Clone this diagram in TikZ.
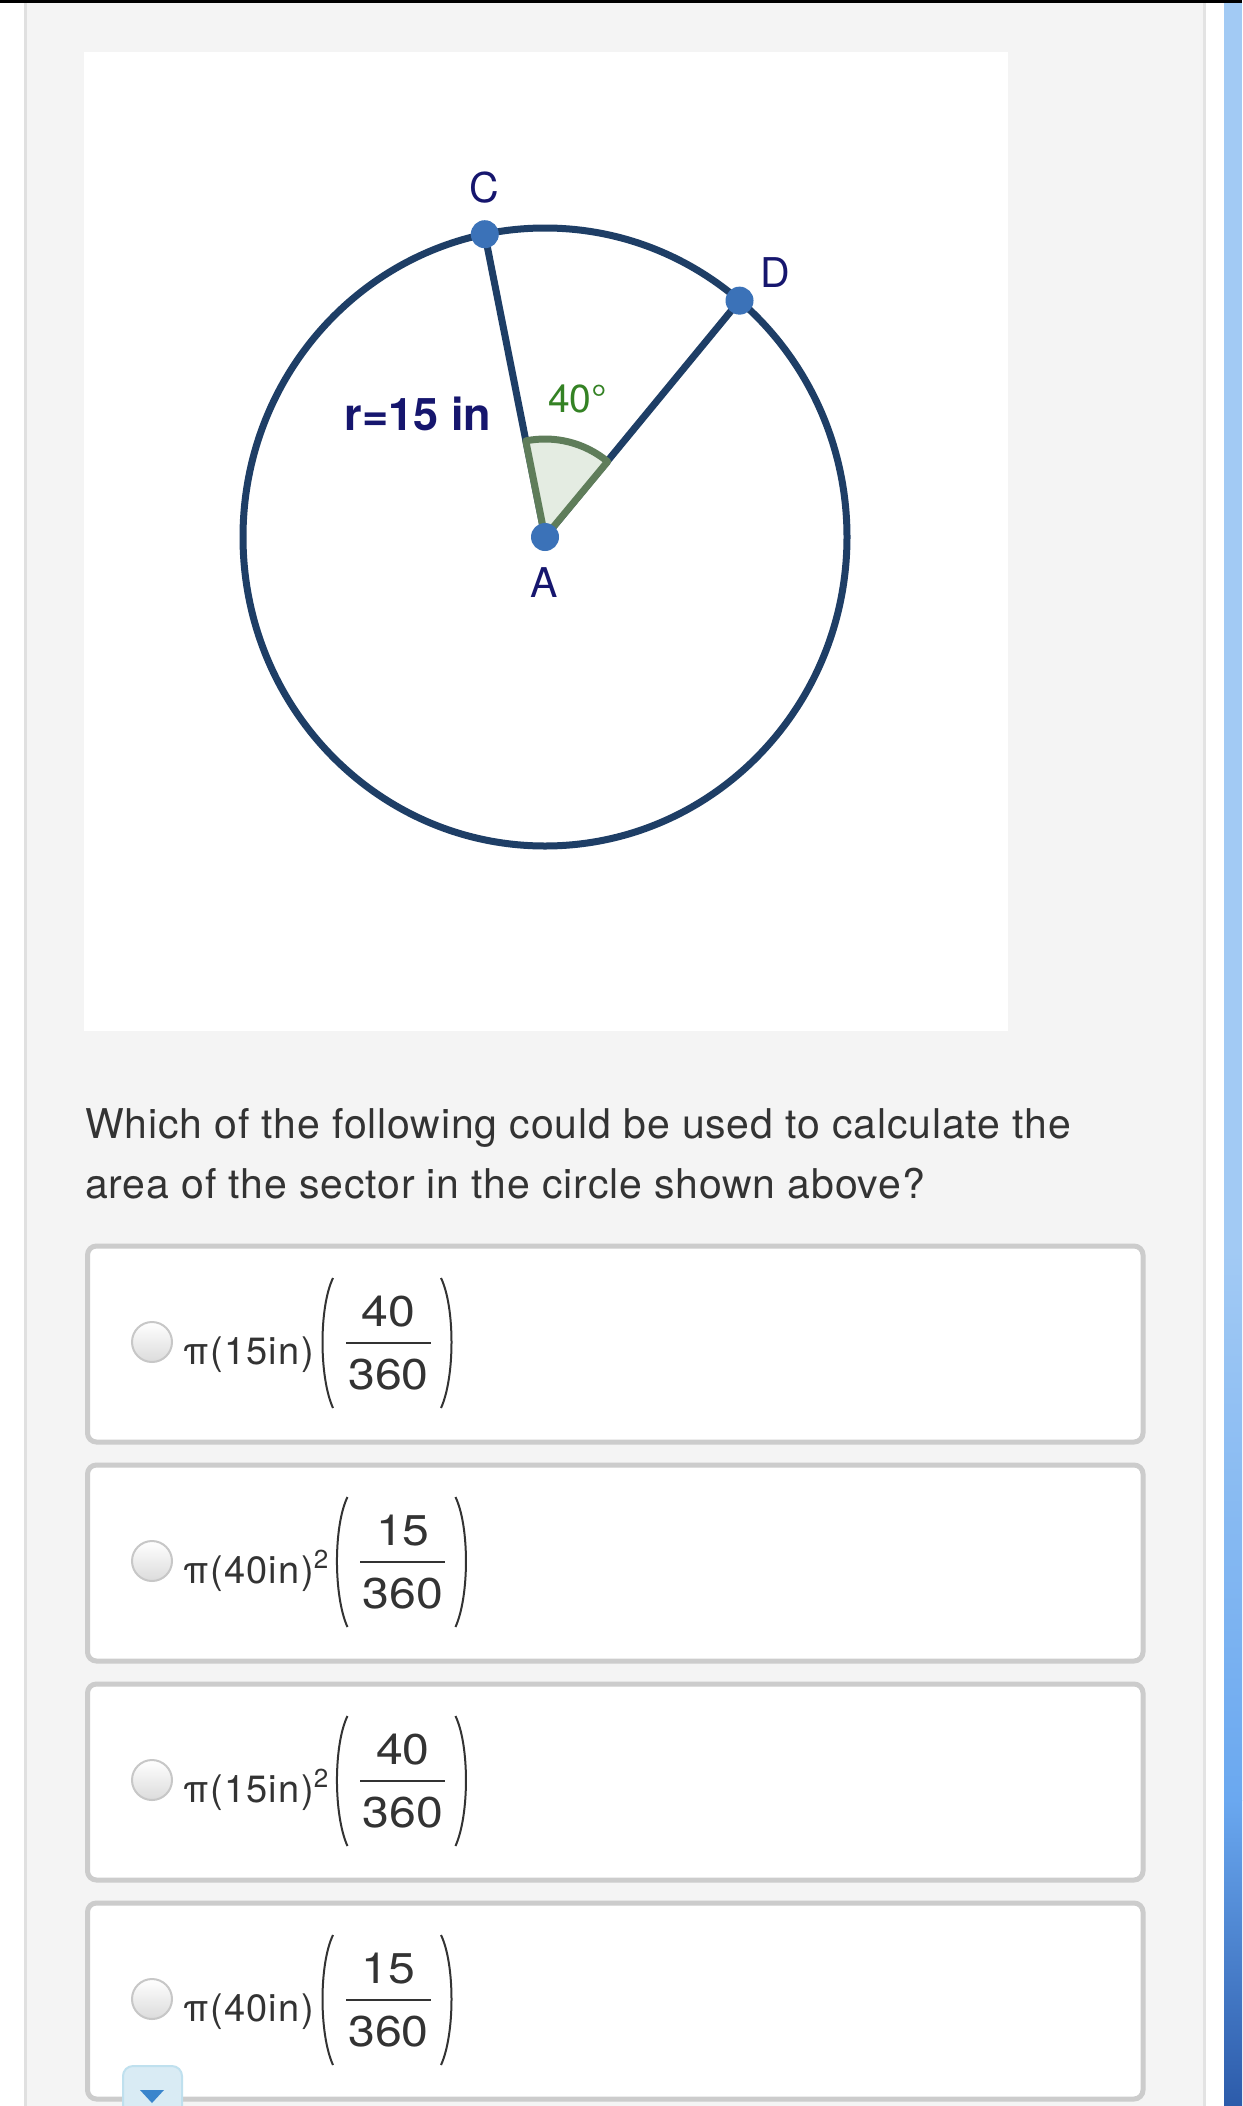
\documentclass[tikz,border=0pt]{standalone}
\usepackage{fontspec}
\setmainfont{TeX Gyre Heros}
\newfontfamily\askfont[LetterSpace=2]{TeX Gyre Heros}
\newfontfamily\choicefont[LetterSpace=3.5]{TeX Gyre Heros}
\newfontfamily\fracfont[FakeStretch=1.12]{TeX Gyre Heros}
\usetikzlibrary{calc}
\definecolor{pagegray}{HTML}{F4F4F4}
\definecolor{rimgray}{HTML}{CCCCCC}
\definecolor{inkgray}{HTML}{333333}
\definecolor{circnavy}{RGB}{30,62,102}
\definecolor{dotblue}{RGB}{59,114,184}
\definecolor{labnavy}{RGB}{22,22,110}
\definecolor{anglegreen}{RGB}{52,130,36}
\definecolor{sectfill}{HTML}{E4ECE2}
\definecolor{sectrim}{HTML}{5F7D5A}
\definecolor{stripA}{HTML}{A2CAF4}
\definecolor{stripB}{HTML}{6AA8F0}
\definecolor{stripC}{HTML}{2C5BAA}
\definecolor{btnfill}{HTML}{D9EBF4}
\definecolor{btnrim}{HTML}{BFE0EE}
\definecolor{btnarrow}{HTML}{3A85CC}

\begin{document}
\begin{tikzpicture}[x = 1pt, y = -1pt,
    every node/.style = {inner sep = 0pt, text = inkgray},
    optbox/.style = {draw = rimgray, line width = 5pt, fill = white, rounded corners = 9pt},
    radio/.style = {circle, minimum size = 40pt, draw = black!22, line width = 2pt,
                    top color = white, bottom color = black!14},
    ptdot/.style = {circle, fill = dotblue, minimum size = 28pt},
    ptlabel/.style = {anchor = base, text = labnavy, font = \fontsize{41}{41}\selectfont},
    asktext/.style = {anchor = base west, font = \askfont\fontsize{41}{41}\selectfont},
    opttext/.style = {anchor = base west, font = \choicefont\fontsize{38}{38}\selectfont},
    fracnum/.style = {anchor = base, font = \fracfont\fontsize{43}{43}\selectfont},
    paren/.style = {draw = inkgray, line width = 2pt}]
  \useasboundingbox (0,0) rectangle (1242,2106);
  \fill[white] (0,0) rectangle (1242,2106);
  \fill[pagegray] (24,0) rectangle (1204,2106);
  \draw[black!12, line width = 3pt] (25.5,0) -- (25.5,2106);
  \draw[black!11, line width = 3pt] (1204,0) -- (1204,2106);
  \fill[stripA] (1224,0) rectangle (1242,1250);
  \shade[top color = stripA, bottom color = stripB] (1224,1250) rectangle (1242,1800);
  \shade[top color = stripB, bottom color = stripC] (1224,1800) rectangle (1242,2106);
  \fill[black] (0,0) rectangle (1242,3);

  \fill[white] (84,52) rectangle (1008,1031);
  \coordinate (A) at (545,537);
  \path (A) ++(-101.5:302 and 309) coordinate (C)
        (A) ++(-49.9:302 and 309) coordinate (D);
  \draw[circnavy, line width = 7pt] (A) ellipse[x radius = 302, y radius = 309];
  \draw[circnavy, line width = 7pt] (C) -- (A) -- (D);
  \filldraw[fill = sectfill, draw = sectrim, line width = 7pt, line join = round]
    (A) -- ++(-50.3:98) arc[start angle = -50.3, end angle = -101.3, radius = 98] -- cycle;
  \foreach \p in {A, C, D}
  {
    \node[ptdot] (dot\p) at (\p) {};
  };
  \node[ptlabel] (labC) at (484,202) {C};
  \node[ptlabel] (labD) at (775,287) {D};
  \node[ptlabel] (labA) at (544,597) {A};
  \node[anchor = base, text = labnavy, font = \bfseries\fontsize{45}{45}\selectfont]
    (radius) at (418,430) {r=15 in};
  \node[anchor = base west, text = anglegreen, font = \fontsize{39}{39}\selectfont]
    (angle) at (548,412) {40°};

  \node[asktext] (ask1) at (85,1138)
    {Which of the following could be used to calculate the};
  \node[asktext] (ask2) at (85,1198)
    {area of the sector in the circle shown above?};

  \foreach \i/\rad/\pw/\ang in {0/15//40, 1/40/2/15, 2/15/2/40, 3/40//15}
  {
    \draw[optbox] (87.5,{1246+219*\i}) rectangle ++(1055.5,196);
    \node[radio] (pick\i) at (152,{1342+219*\i}) {};
    \node[opttext] (expr\i) at (183,{1364+219*\i})
      {π(\rad in)\raisebox{15pt}{\fontsize{26}{26}\selectfont\pw}};
    \path (expr\i.east |- pick\i) ++(8,0) coordinate (lp\i);
    \draw[paren] ($(lp\i)+(11,-64)$) .. controls ($(lp\i)+(-3,-35)$) and ($(lp\i)+(-3,35)$) .. ($(lp\i)+(11,66)$);
    \draw[paren] ($(lp\i)+(119,-64)$) .. controls ($(lp\i)+(133,-35)$) and ($(lp\i)+(133,35)$) .. ($(lp\i)+(119,66)$);
    \draw[inkgray, line width = 2.7pt] ($(lp\i)+(24,1)$) -- ($(lp\i)+(109,1)$);
    \node[fracnum] (top\i) at ($(lp\i)+(66.5,-16)$) {\ang};
    \node[fracnum] (bot\i) at ($(lp\i)+(66.5,47)$) {360};
  };

  \filldraw[fill = btnfill, draw = btnrim, line width = 2pt, rounded corners = 10pt]
    (123,2120) rectangle (182,2066);
  \fill[btnarrow] (140,2090) -- (164,2090) -- (152,2103) -- cycle;
\end{tikzpicture}
\end{document}
